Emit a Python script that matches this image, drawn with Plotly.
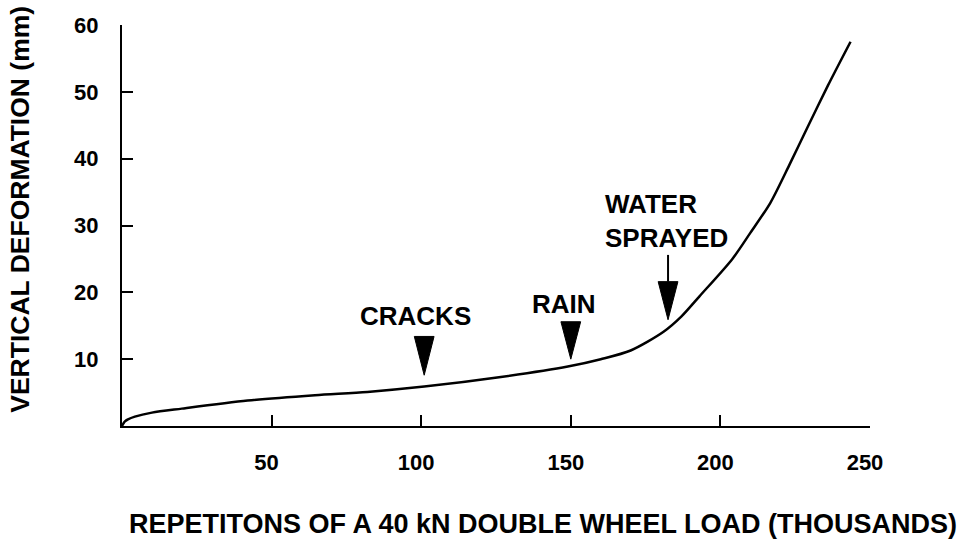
import plotly.graph_objects as go

# Curve data (thousands of repetitions, mm)
reps = [0, 0.5, 1, 2, 4.3, 10, 20, 42, 64.5, 82, 101, 126, 149, 160, 170, 181, 187,
        193, 204, 210, 216.7, 223.3, 229, 236, 243.5]
deform = [0, 0.4, 0.7, 1.0, 1.4, 2.0, 2.6, 3.8, 4.6, 5.1, 5.9, 7.3, 8.9, 10.0, 11.3, 14.1, 16.4,
          19.4, 25.0, 28.9, 33.4, 39.3, 44.6, 51.0, 57.5]

# Events marked on the curve
event_names = ["CRACKS", "RAIN", "WATER<br>SPRAYED"]
event_x = [101, 150, 182.5]
event_top = [13.4, 15.6, 21.6]
event_tip = [7.6, 10.0, 15.9]

x_ticks = [50, 100, 150, 200, 250]
y_ticks = [10, 20, 30, 40, 50, 60]

FONT = "Liberation Sans, Arial, Helvetica, sans-serif"

fig = go.Figure()
fig.add_trace(go.Scatter(x=reps, y=deform, mode="lines",
                         line=dict(color="black", width=2.5, shape="spline", smoothing=0.8),
                         hoverinfo="skip", showlegend=False))

# triangle markers
half_w = 3.3
for ex, top, tip in zip(event_x, event_top, event_tip):
    fig.add_trace(go.Scatter(x=[ex - half_w, ex + half_w, ex, ex - half_w], y=[top, top, tip, top],
                             mode="lines", fill="toself", fillcolor="black",
                             line=dict(color="black", width=1), showlegend=False, hoverinfo="skip"))

# stem for water sprayed arrow
fig.add_trace(go.Scatter(x=[event_x[2], event_x[2]], y=[25.6, event_top[2]], mode="lines",
                         line=dict(color="black", width=2), showlegend=False, hoverinfo="skip"))

annotations = [
    dict(x=98, y=16.4, text=event_names[0], showarrow=False, xanchor="center", yanchor="middle"),
    dict(x=147.8, y=18.3, text=event_names[1], showarrow=False, xanchor="center", yanchor="middle"),
    dict(x=160.9, y=30.6, text=event_names[2], showarrow=False, xanchor="left", yanchor="middle", align="left"),
]
for a in annotations:
    a["font"] = dict(family=FONT, size=26, color="black", weight="bold")
    a["xref"] = "x"
    a["yref"] = "y"

annotations.append(dict(text="REPETITONS OF A 40 kN DOUBLE WHEEL LOAD (THOUSANDS)", xref="paper", yref="paper",
                        x=0.563, y=-0.244, showarrow=False, xanchor="center", yanchor="middle",
                        font=dict(family=FONT, size=27, color="black", weight="bold")))
annotations.append(dict(text="VERTICAL DEFORMATION (mm)", xref="paper", yref="paper", textangle=-90,
                        x=-0.136, y=0.54, showarrow=False, xanchor="center", yanchor="middle",
                        font=dict(family=FONT, size=26.5, color="black", weight="bold")))

fig.update_layout(
    width=962, height=541,
    margin=dict(l=122, r=92, t=25, b=115),
    paper_bgcolor="white", plot_bgcolor="white",
    annotations=annotations,
    showlegend=False,
)
fig.update_xaxes(range=[0, 250], tickvals=x_ticks, ticktext=[str(v) for v in x_ticks],
                 ticks="inside", ticklen=11, tickwidth=2, tickcolor="black",
                 showline=True, linecolor="black", linewidth=2, showgrid=False, zeroline=False,
                 ticklabelstandoff=16, ticklabelshift=-5,
                 tickfont=dict(family=FONT, size=22, color="black", weight="bold"))
fig.update_yaxes(range=[0, 60], tickvals=y_ticks, ticktext=[str(v) for v in y_ticks],
                 ticks="inside", ticklen=11, tickwidth=2, tickcolor="black",
                 showline=True, linecolor="black", linewidth=2, showgrid=False, zeroline=False,
                 ticklabelstandoff=17,
                 tickfont=dict(family=FONT, size=22, color="black", weight="bold"))

fig.write_html("out.html", config={"displayModeBar": False},
               post_script="document.body.style.margin='0';")
